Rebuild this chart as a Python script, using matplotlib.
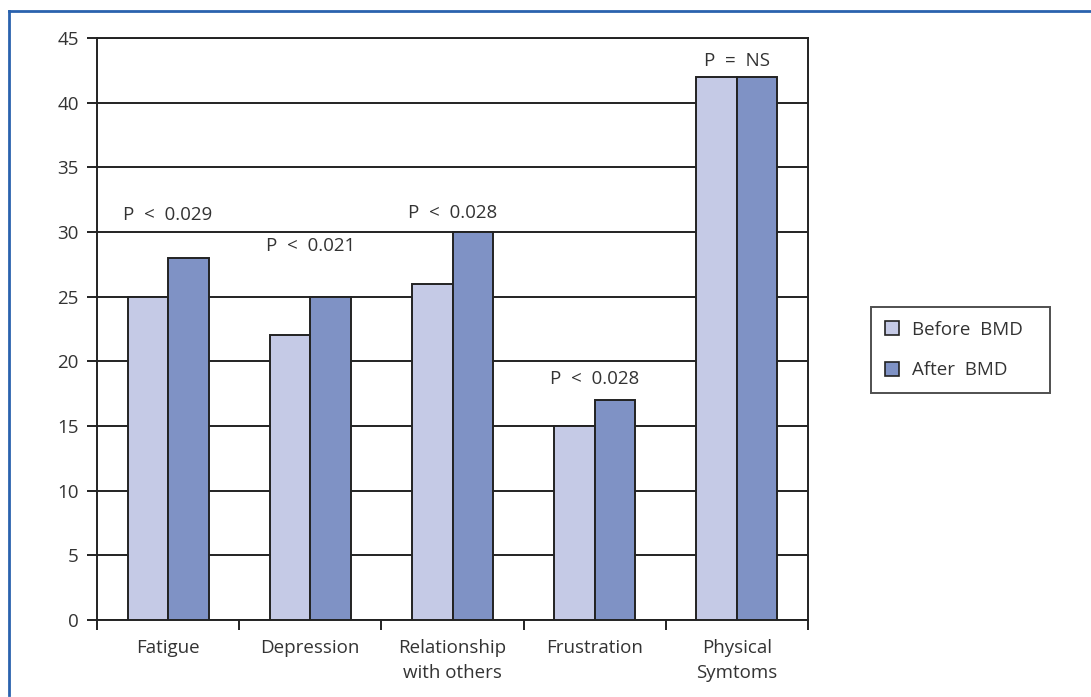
import matplotlib
matplotlib.use("Agg")
import matplotlib.pyplot as plt
from matplotlib.lines import Line2D
from matplotlib.patches import Patch
import numpy as np

plt.rcParams['font.family'] = ['Open Sans', 'DejaVu Sans']

categories = ["Fatigue", "Depression", "Relationship\nwith others", "Frustration", "Physical\nSymtoms"]
before_bmd = [25, 22, 26, 15, 42]
after_bmd = [28, 25, 30, 17, 42]
p_labels = ["P  <  0.029", "P  <  0.021", "P  <  0.028", "P  <  0.028", "P  =  NS"]
p_label_y = [31.3, 28.9, 31.5, 18.6, 43.2]
y_ticks = [0, 5, 10, 15, 20, 25, 30, 35, 40, 45]

c_before = "#C5CAE6"
c_after = "#7F92C5"
edge = "#222222"
text_c = "#333333"
fs = 13.5

fig = plt.figure(figsize=(10.91, 6.97), dpi=100)
ax = fig.add_axes([97 / 1091, 1 - 620 / 697, (808 - 97) / 1091, (620 - 38) / 697])

x = np.arange(len(categories))
w = 0.285
ax.bar(x - w / 2, before_bmd, w, color=c_before, edgecolor=edge, linewidth=1.4, zorder=3)
ax.bar(x + w / 2, after_bmd, w, color=c_after, edgecolor=edge, linewidth=1.4, zorder=3)

for xi, lab, yy in zip(x, p_labels, p_label_y):
    ax.text(xi, yy, lab, ha="center", va="center", fontsize=fs, color=text_c)

ax.set_xlim(-0.5, len(categories) - 0.5)
ax.set_ylim(0, 45)
ax.set_yticks(y_ticks)
ax.tick_params(axis="y", direction="out", length=7, width=1.4, color=edge,
               labelsize=fs, labelcolor=text_c, pad=6)
ax.set_xticks(np.arange(len(categories) + 1) - 0.5)
ax.set_xticklabels([])
ax.set_xticks(x, minor=True)
ax.set_xticklabels(categories, minor=True, fontsize=fs, color=text_c, linespacing=1.5)
ax.tick_params(axis="x", which="major", direction="out", length=7, width=1.4, color=edge)
ax.tick_params(axis="x", which="minor", length=0, pad=14)

ax.yaxis.grid(True, color=edge, linewidth=1.4, zorder=0)
ax.set_axisbelow(True)
for s in ax.spines.values():
    s.set_color(edge)
    s.set_linewidth(1.4)

handles = [Patch(facecolor=c_before, edgecolor=edge, linewidth=1.2, label="Before  BMD"),
           Patch(facecolor=c_after, edgecolor=edge, linewidth=1.2, label="After  BMD")]
leg = fig.legend(handles=handles, loc="center", mode="expand",
                 bbox_to_anchor=(871 / 1091, 1 - 392 / 697, 179 / 1091, 84 / 697),
                 fontsize=fs, frameon=True, fancybox=False,
                 handlelength=0.75, handleheight=0.75, handletextpad=0.7,
                 labelspacing=1.2, borderpad=0.75, borderaxespad=0)
leg.get_frame().set_edgecolor(edge)
leg.get_frame().set_linewidth(1.4)
for t in leg.get_texts():
    t.set_color(text_c)

border = "#2A62AE"
fig.add_artist(Line2D([9 / 1091, 1], [1 - 11 / 697, 1 - 11 / 697], color=border, lw=2,
                      transform=fig.transFigure))
fig.add_artist(Line2D([9 / 1091, 9 / 1091], [0.003, 1 - 11 / 697], color=border, lw=2,
                      transform=fig.transFigure))

fig.savefig("out.png", dpi=100)
